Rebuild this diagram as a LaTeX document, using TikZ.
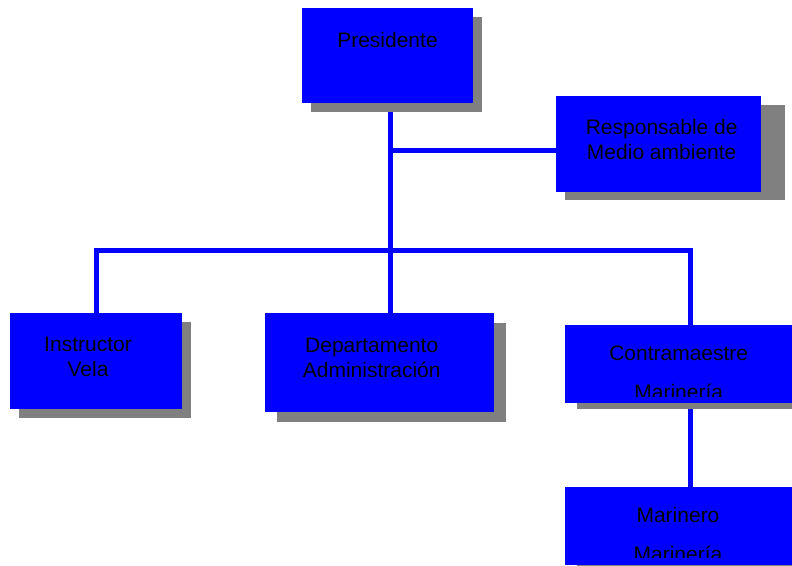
\documentclass[tikz,border=0pt]{standalone}
\usepackage{fontspec}
\setmainfont{Liberation Sans}
\usepackage{tikz}
\usetikzlibrary{positioning}
\pgfdeclarelayer{background}
\pgfsetlayers{background,main}
\tikzstyle{chart} = [x = 1bp, y = -1bp]
\definecolor{boxColor}{RGB}{0,0,255}
\definecolor{shadowColor}{RGB}{128,128,128}
\tikzstyle{boxStyle} = [draw=none, fill=boxColor, inner sep=0, outer sep=0, anchor=north west]
\tikzstyle{shadowStyle} = [fill=shadowColor]
\tikzstyle{boxText} = [font=\fontsize{21bp}{25bp}\selectfont, align=center, anchor=base, inner sep=0]
\tikzstyle{linkLine} = [draw=boxColor, line width=5bp]
% [extra shadow width], name, left, top, width, height, shadow x, shadow y
\newcommand{\orgBox}[8][0]{
  \fill [shadowStyle] (#3 + #7, #4 + #8) rectangle + (#5 + #1, #6);
  \node [boxStyle, minimum width=#5bp, minimum height=#6bp] (#2) at (#3, #4) {};
}

\begin{document}
\begin{tikzpicture}[chart]
          \useasboundingbox (0,0) rectangle (792,566);
          \clip (0,0) rectangle (792,566);

          \orgBox{pres}{302}{8}{171}{95.5}{9}{9}
          \orgBox[15]{resp}{556}{96}{205}{95.5}{9}{9}
          \orgBox{instr}{10}{313}{172}{95.5}{9}{9}
          \orgBox{dept}{265}{313}{229}{98.5}{12}{10}
          \orgBox{contra}{565}{325}{250}{78}{12}{6}
          \orgBox{mari}{565}{487}{250}{78}{12}{10}

          \coordinate (busCenter) at (390,250);
          \coordinate (respLink) at (390,150.5);
          \begin{pgfonlayer}{background}
            \draw [linkLine] (pres.south -| busCenter) -- (busCenter);
            \draw [linkLine] (respLink) -- (respLink -| resp.west);
            \draw [linkLine] (instr.north) |- (busCenter) -| (contra.north);
            \draw [linkLine] (dept.north -| busCenter) -- (busCenter);
            \draw [linkLine] (contra.south) -- (mari.north);
          \end{pgfonlayer}

          % base anchor sits on the last line
          \node [boxText] (presText) at (387.5,47.7) {Presidente};
          \node [boxText] (respText) at (661.7,160) {Responsable de\\Medio ambiente};
          \node [boxText] (instrText) at (88,376) {Instructor\\Vela};
          \node [boxText] (deptText) at (371.7,377.3) {Departamento\\Administración};
          \begin{scope}
            \clip (565,325) rectangle (792,396);
            \node [boxText] (contraText) at (678.7,399) {Contramaestre\\[14bp]Marinería};
          \end{scope}
          \begin{scope}
            \clip (565,487) rectangle (792,557);
            \node [boxText] (mariText) at (678,561) {Marinero\\[14bp]Marinería};
          \end{scope}
        \end{tikzpicture}
\end{document}
